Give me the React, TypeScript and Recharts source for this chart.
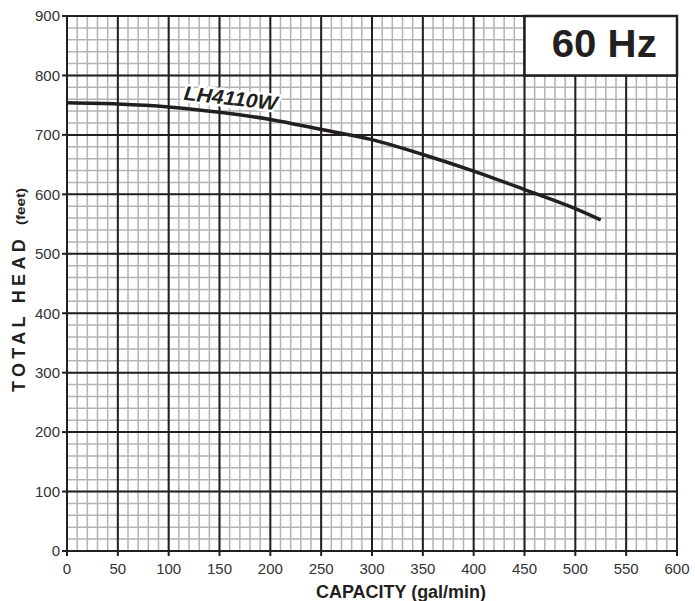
import { ComposedChart, Line, XAxis, YAxis, CartesianGrid, ReferenceArea, ReferenceDot } from 'recharts';

// pump curve
const capacity = [0, 50, 100, 150, 200, 250, 300, 350, 400, 450, 500, 525];
const head = [754, 752, 747, 738, 726, 709, 692, 667, 639, 608, 576, 557];

const xTicks = [0, 50, 100, 150, 200, 250, 300, 350, 400, 450, 500, 550, 600];
const yTicks = [0, 100, 200, 300, 400, 500, 600, 700, 800, 900];

const curveName = 'LH4110W';
const freqLabel = '60 Hz';

const data = capacity.map((c, i) => ({ capacity: c, head: head[i] }));

// fine graph-paper lines: 10 gal/min and 20 ft
const xMinor = Array.from({ length: 61 }, (_, i) => i * 10);
const yMinor = Array.from({ length: 46 }, (_, i) => i * 20);

const INK = '#231f20';
const FONT = "Arial, 'Liberation Sans', Helvetica, sans-serif";

function XTitle({ viewBox }: any) {
  const { x, y } = viewBox;
  return (
    <text
      x={x + 249}
      y={y + 47}
      fontFamily={FONT}
      fontWeight="bold"
      fontSize={18}
      fill={INK}
      textLength={170}
      lengthAdjust="spacingAndGlyphs"
    >
      CAPACITY (gal/min)
    </text>
  );
}

function YTitle({ viewBox }: any) {
  const { x, y } = viewBox;
  const tx = x + 25;
  const y1 = y + 376;
  const y2 = y + 209;
  return (
    <g fontFamily={FONT} fontWeight="bold" fill={INK}>
      <text
        x={tx}
        y={y1}
        transform={`rotate(-90 ${tx} ${y1})`}
        fontSize={18}
        letterSpacing={4.3}
      >
        TOTAL HEAD
      </text>
      <text
        x={tx}
        y={y2}
        transform={`rotate(-90 ${tx} ${y2})`}
        fontSize={13}
        textLength={37}
        lengthAdjust="spacingAndGlyphs"
      >
        (feet)
      </text>
    </g>
  );
}

function FreqBoxLabel({ viewBox }: any) {
  const { x, y, width } = viewBox;
  return (
    <text
      x={x + width / 2 + 3.5}
      y={y + 41}
      textAnchor="middle"
      fontFamily={FONT}
      fontWeight="bold"
      fontSize={38}
      fill={INK}
      textLength={105}
      lengthAdjust="spacingAndGlyphs"
    >
      {freqLabel}
    </text>
  );
}

function CurveLabel({ viewBox }: any) {
  const { x, y } = viewBox;
  return (
    <text
      x={x}
      y={y + 7}
      transform={`rotate(6.5 ${x} ${y})`}
      textAnchor="middle"
      fontFamily={FONT}
      fontWeight="bold"
      fontStyle="italic"
      fontSize={20}
      fill={INK}
      stroke="#fff"
      strokeWidth={5}
      paintOrder="stroke"
      textLength={94}
      lengthAdjust="spacingAndGlyphs"
    >
      {curveName}
    </text>
  );
}

export default function App() {
  return (
    <div style={{ position: 'absolute', left: 0, top: 0, background: '#fff' }}>
      <ComposedChart
        width={695}
        height={601}
        data={data}
        margin={{ top: 16, right: 18, left: 0, bottom: 0 }}
      >
        <CartesianGrid
          stroke="#b3b3b3"
          strokeWidth={1.5}
          verticalValues={xMinor}
          horizontalValues={yMinor}
        />
        <CartesianGrid
          stroke={INK}
          strokeWidth={2}
          verticalValues={xTicks}
          horizontalValues={yTicks}
        />
        <XAxis
          dataKey="capacity"
          type="number"
          domain={[0, 600]}
          ticks={xTicks}
          interval={0}
          height={50}
          tickSize={5}
          tickMargin={7}
          axisLine={{ stroke: INK, strokeWidth: 2 }}
          tickLine={{ stroke: INK, strokeWidth: 2 }}
          tick={{ fontSize: 15, fill: '#333', fontFamily: FONT }}
          label={<XTitle />}
        />
        <YAxis
          type="number"
          domain={[0, 900]}
          ticks={yTicks}
          interval={0}
          width={67}
          tickSize={5}
          tickMargin={2}
          axisLine={{ stroke: INK, strokeWidth: 2 }}
          tickLine={{ stroke: INK, strokeWidth: 2 }}
          tick={{ fontSize: 15, fill: '#333', fontFamily: FONT }}
          label={<YTitle />}
        />
        <ReferenceArea
          x1={450}
          x2={600}
          y1={800}
          y2={900}
          fill="#fff"
          fillOpacity={1}
          stroke={INK}
          strokeWidth={2.5}
          label={<FreqBoxLabel />}
        />
        <Line
          type="monotone"
          dataKey="head"
          stroke={INK}
          strokeWidth={3.5}
          dot={false}
          isAnimationActive={false}
        />
        <ReferenceDot x={161} y={762} r={0} fill="none" stroke="none" label={<CurveLabel />} />
      </ComposedChart>
    </div>
  );
}
